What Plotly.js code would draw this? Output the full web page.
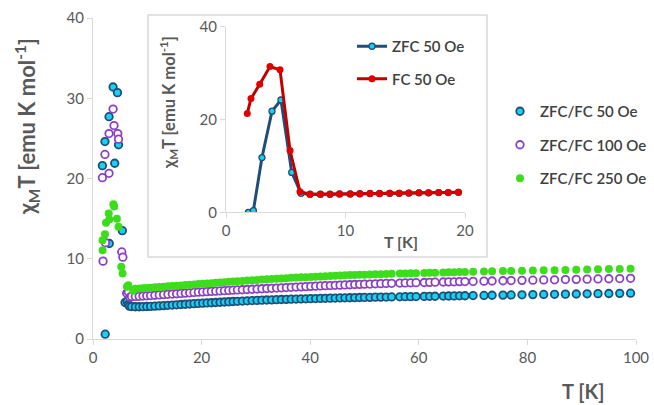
<!DOCTYPE html>
<html>
<head>
<meta charset="utf-8">
<script src="https://cdn.plot.ly/plotly-3.0.1.min.js"></script>
<style>html,body{margin:0;padding:0;background:#fff;}#chart{width:654px;height:405px;}</style>
</head>
<body>
<div id="chart"></div>
<script>
// ---------- DATA ----------
// shared temperature grid for the slowly rising part (K)
const T_row = [7.8, 8.5, 9.2, 9.9, 10.6, 11.4, 12.2, 13.0, 13.8, 14.6, 15.4, 16.2, 17.0, 17.8, 18.6, 19.4,
  20.2, 21.0, 21.8, 22.6, 23.4, 24.2, 25.0, 25.8, 26.6, 27.5, 28.4, 29.3, 30.2, 31.1, 32.0, 32.9, 33.8,
  34.7, 35.6, 36.5, 37.4, 38.3, 39.2, 40.1, 41.0, 41.9, 42.8, 43.7, 44.6, 45.5, 46.4, 47.3, 48.2, 49.1,
  50.0, 51.0, 52.0, 53.0, 54.0, 55.0, 56.5, 57.5, 58.5, 59.5, 61.0, 62.0, 63.0, 64.5, 65.5, 66.5, 67.5,
  68.5, 70.0, 72.0, 73.5, 75.5, 77.0, 79.0, 81.0, 83.0, 85.0, 87.0, 89.0, 91.0, 93.0, 95.0, 97.0, 99.0];

// ZFC/FC 50 Oe
const T50_low = [1.73, 2.2, 2.25, 2.95, 3.0, 3.7, 4.0, 4.5, 4.7, 5.4, 5.9, 6.3, 6.5, 6.7, 7.1];
const Y50_low = [21.6, 24.6, 0.6, 27.7, 11.9, 31.4, 21.9, 30.7, 24.2, 13.5, 4.55, 4.7, 4.3, 4.1, 4.05];
const Y50_row = [4.02, 4.02, 4.03, 4.05, 4.07, 4.10, 4.13, 4.16, 4.20, 4.23, 4.26, 4.30, 4.33, 4.36, 4.40, 4.43,
  4.46, 4.49, 4.52, 4.55, 4.58, 4.61, 4.64, 4.67, 4.70, 4.73, 4.76, 4.79, 4.81, 4.84, 4.86, 4.88, 4.90,
  4.92, 4.94, 4.96, 4.98, 4.99, 5.01, 5.03, 5.04, 5.06, 5.07, 5.09, 5.10, 5.12, 5.13, 5.14, 5.16, 5.17,
  5.18, 5.19, 5.21, 5.22, 5.23, 5.24, 5.26, 5.27, 5.28, 5.29, 5.31, 5.32, 5.33, 5.35, 5.36, 5.37, 5.38,
  5.39, 5.41, 5.43, 5.45, 5.47, 5.49, 5.51, 5.53, 5.55, 5.57, 5.59, 5.61, 5.63, 5.65, 5.67, 5.69, 5.71];

// ZFC/FC 100 Oe
const T100_low = [1.73, 1.85, 2.2, 2.3, 2.95, 2.95, 3.7, 3.87, 4.56, 4.7, 5.3, 5.5, 6.2, 6.5, 6.8, 7.1];
const Y100_low = [20.1, 9.7, 23.0, 12.0, 25.6, 20.65, 28.65, 26.6, 25.6, 24.9, 10.85, 10.2, 5.7, 5.85, 5.2, 5.3];
const Y100_row = [5.30, 5.32, 5.35, 5.38, 5.41, 5.45, 5.49, 5.53, 5.57, 5.60, 5.64, 5.68, 5.72, 5.76, 5.80, 5.83,
  5.87, 5.90, 5.93, 5.96, 5.99, 6.02, 6.05, 6.08, 6.11, 6.14, 6.17, 6.20, 6.23, 6.26, 6.29, 6.32, 6.35,
  6.38, 6.41, 6.44, 6.47, 6.50, 6.53, 6.56, 6.58, 6.61, 6.64, 6.66, 6.69, 6.71, 6.74, 6.76, 6.79, 6.81,
  6.83, 6.85, 6.88, 6.90, 6.92, 6.94, 6.97, 6.99, 7.00, 7.02, 7.04, 7.06, 7.08, 7.10, 7.12, 7.13, 7.15,
  7.16, 7.18, 7.21, 7.23, 7.26, 7.28, 7.31, 7.33, 7.36, 7.38, 7.41, 7.43, 7.46, 7.48, 7.51, 7.53, 7.56];

// ZFC/FC 250 Oe
const T250_low = [1.76, 1.76, 2.2, 2.4, 2.9, 3.0, 3.75, 3.9, 4.4, 4.7, 5.2, 5.45, 6.25, 6.5, 7.4];
const Y250_low = [11.06, 12.3, 13.06, 14.5, 15.65, 14.9, 16.8, 16.5, 15.0, 14.0, 9.0, 8.15, 6.5, 6.7, 6.0];
const Y250_row = [6.25, 6.30, 6.33, 6.36, 6.40, 6.44, 6.48, 6.52, 6.56, 6.60, 6.64, 6.68, 6.72, 6.76, 6.80, 6.84,
  6.88, 6.92, 6.96, 7.00, 7.04, 7.08, 7.12, 7.16, 7.20, 7.24, 7.28, 7.32, 7.36, 7.40, 7.44, 7.48, 7.52,
  7.55, 7.58, 7.62, 7.65, 7.68, 7.71, 7.74, 7.77, 7.80, 7.83, 7.86, 7.88, 7.91, 7.93, 7.96, 7.98, 8.00,
  8.02, 8.04, 8.06, 8.08, 8.10, 8.12, 8.15, 8.17, 8.19, 8.20, 8.23, 8.25, 8.27, 8.29, 8.31, 8.33, 8.34,
  8.36, 8.38, 8.41, 8.43, 8.46, 8.48, 8.51, 8.53, 8.56, 8.58, 8.61, 8.63, 8.66, 8.68, 8.71, 8.73, 8.76];

// inset: 50 Oe ZFC and FC, 0-20 K
const T_zfc = [1.87, 2.29, 3.01, 3.85, 4.6, 5.5, 6.28, 7.03, 7.9, 8.7, 9.5, 10.4, 11.2, 12.05, 12.85, 13.7, 14.5, 15.3, 16.15, 16.95, 17.8, 18.6, 19.45];
const Y_zfc = [0, 0.35, 11.8, 21.8, 24.2, 8.6, 4.1, 3.9, 3.9, 3.9, 3.95, 3.95, 4.0, 4.05, 4.05, 4.1, 4.1, 4.15, 4.2, 4.2, 4.25, 4.25, 4.3];
const T_fc = [1.78, 2.09, 2.82, 3.68, 4.52, 5.36, 6.19, 7.03, 7.9, 8.7, 9.5, 10.4, 11.2, 12.05, 12.85, 13.7, 14.5, 15.3, 16.15, 16.95, 17.8, 18.6, 19.45];
const Y_fc = [21.3, 24.5, 27.6, 31.4, 30.7, 13.3, 4.45, 3.9, 3.9, 3.9, 3.95, 3.95, 4.0, 4.05, 4.05, 4.1, 4.1, 4.15, 4.2, 4.2, 4.25, 4.25, 4.3];

const seriesNames = ['ZFC/FC 50 Oe', 'ZFC/FC 100 Oe', 'ZFC/FC 250 Oe'];
const insetNames = ['ZFC 50 Oe', 'FC 50 Oe'];

// ---------- LAYOUT HELPERS ----------
const M = {l: 93, r: 18, t: 18, b: 66};
const W = 654, H = 405;
const PW = W - M.l - M.r, PH = H - M.t - M.b;
const px2x = p => (p - M.l) / PW;
const py2y = p => (H - M.b - p) / PH;

const FONT = 'Lato, "Open Sans", "Liberation Sans", sans-serif';
const GRAY = '#595959';
const AXLINE = '#d9d9d9';

const traces = [
  {
    x: T50_low.concat(T_row), y: Y50_low.concat(Y50_row),
    type: 'scatter', mode: 'markers', name: seriesNames[0], legendgroup: 'a',
    marker: {size: 7.5, color: '#1ad0f0', line: {color: '#1f4e79', width: 1.8}},
    xaxis: 'x', yaxis: 'y', legend: 'legend'
  },
  {
    x: T100_low.concat(T_row), y: Y100_low.concat(Y100_row),
    type: 'scatter', mode: 'markers', name: seriesNames[1], legendgroup: 'b',
    marker: {size: 7.5, color: '#ffffff', line: {color: '#8a3fc6', width: 1.8}},
    xaxis: 'x', yaxis: 'y', legend: 'legend'
  },
  {
    x: T250_low.concat(T_row), y: Y250_low.concat(Y250_row),
    type: 'scatter', mode: 'markers', name: seriesNames[2], legendgroup: 'c',
    marker: {size: 8, color: '#3ddc1c', line: {color: '#3ddc1c', width: 0}},
    xaxis: 'x', yaxis: 'y', legend: 'legend'
  },
  {
    x: T_zfc, y: Y_zfc, type: 'scatter', mode: 'lines+markers', name: insetNames[0], legendgroup: 'd',
    line: {color: '#1f4e79', width: 3},
    marker: {size: 6, color: '#1ad0f0', line: {color: '#1f4e79', width: 1.3}},
    xaxis: 'x2', yaxis: 'y2', legend: 'legend2'
  },
  {
    x: T_fc, y: Y_fc, type: 'scatter', mode: 'lines+markers', name: insetNames[1], legendgroup: 'e',
    line: {color: '#c00000', width: 3},
    marker: {size: 7, color: '#e00000', line: {color: '#c00000', width: 0}},
    xaxis: 'x2', yaxis: 'y2', legend: 'legend2'
  }
];

const axisCommon = {
  showgrid: false, zeroline: false, showline: true, linecolor: AXLINE, linewidth: 1,
  ticks: 'outside', tickcolor: AXLINE, ticklen: 5, tickwidth: 1,
  tickfont: {family: FONT, size: 15, color: GRAY}
};

const layout = {
  width: W, height: H,
  margin: {l: M.l, r: M.r, t: M.t, b: M.b, pad: 0, autoexpand: false},
  paper_bgcolor: '#ffffff', plot_bgcolor: 'rgba(0,0,0,0)',
  font: {family: FONT, color: GRAY},
  xaxis: Object.assign({}, axisCommon, {range: [0, 100], dtick: 20, tick0: 0, domain: [0, 1], anchor: 'y', automargin: false}),
  yaxis: Object.assign({}, axisCommon, {range: [0, 40], dtick: 10, tick0: 0, domain: [0, 1], anchor: 'x', automargin: false}),
  xaxis2: Object.assign({}, axisCommon, {range: [0, 20], dtick: 10, tick0: 0,
    domain: [px2x(226), px2x(465)], anchor: 'y2', automargin: false}),
  yaxis2: Object.assign({}, axisCommon, {range: [0, 40], dtick: 20, tick0: 0,
    domain: [py2y(212.3), py2y(26.7)], anchor: 'x2', automargin: false}),
  showlegend: true,
  legend: {
    x: px2x(500), y: py2y(95), xanchor: 'left', yanchor: 'top',
    bgcolor: 'rgba(0,0,0,0)', borderwidth: 0, traceorder: 'grouped', tracegroupgap: 11,
    font: {family: FONT, size: 15, weight: 600, color: '#404040'}
  },
  legend2: {
    x: px2x(352), y: py2y(30), xanchor: 'left', yanchor: 'top',
    bgcolor: 'rgba(0,0,0,0)', borderwidth: 0, traceorder: 'grouped', tracegroupgap: 10,
    font: {family: FONT, size: 15, weight: 600, color: '#404040'}
  },
  shapes: [
    {type: 'rect', xref: 'paper', yref: 'paper', layer: 'below',
     x0: px2x(148), x1: px2x(487), y0: py2y(257), y1: py2y(15),
     line: {color: AXLINE, width: 1.5}, fillcolor: '#ffffff'}
  ],
  annotations: [
    {xref: 'paper', yref: 'paper', x: px2x(27), y: py2y(127), textangle: -90, showarrow: false,
     xanchor: 'center', yanchor: 'middle',
     text: '<b>χ<sub>M</sub>T [emu K mol<sup>-1</sup>]</b>', font: {family: FONT, size: 22, color: GRAY}},
    {xref: 'paper', yref: 'paper', x: px2x(583), y: py2y(391), showarrow: false,
     xanchor: 'center', yanchor: 'middle',
     text: '<b>T [K]</b>', font: {family: FONT, size: 20, color: GRAY}},
    {xref: 'paper', yref: 'paper', x: px2x(168), y: py2y(103), textangle: -90, showarrow: false,
     xanchor: 'center', yanchor: 'middle',
     text: '<b>χ<sub>M</sub>T [emu K mol<sup>-1</sup>]</b>', font: {family: FONT, size: 16.5, color: GRAY}},
    {xref: 'paper', yref: 'paper', x: px2x(401), y: py2y(241), showarrow: false,
     xanchor: 'center', yanchor: 'middle',
     text: '<b>T [K]</b>', font: {family: FONT, size: 16, color: GRAY}}
  ]
};

Plotly.newPlot('chart', traces, layout, {staticPlot: true, displayModeBar: false});
</script>
</body>
</html>
